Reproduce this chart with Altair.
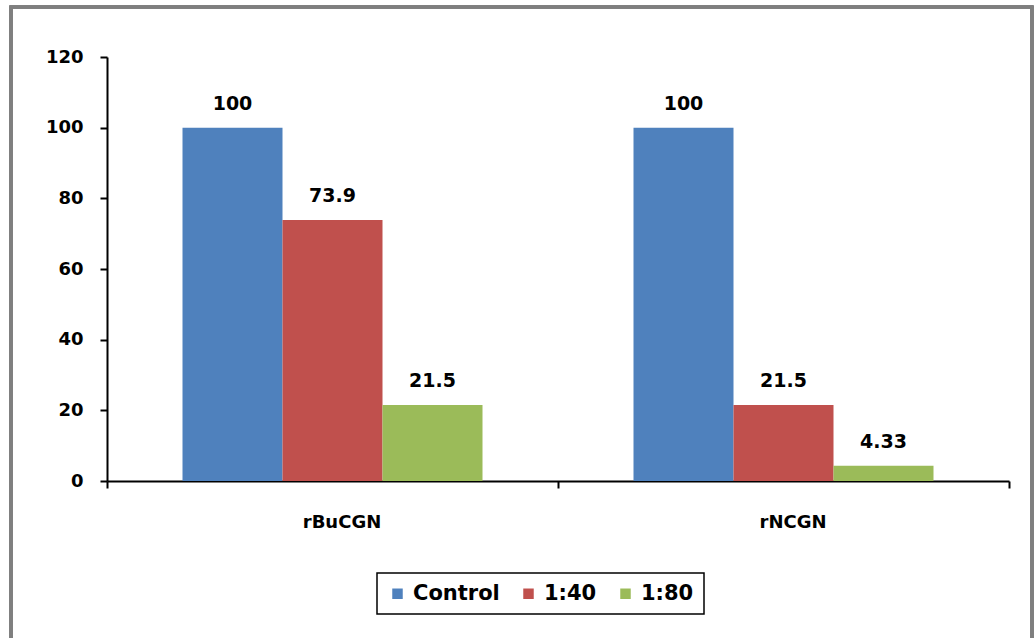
import altair as alt
import pandas as pd

# Source values for the grouped bar chart
groups = ["rBuCGN", "rNCGN"]
series = ["Control", "1:40", "1:80"]
values_rbucgn = [100, 73.9, 21.5]
values_rncgn = [100, 21.5, 4.33]
labels_rbucgn = ["100", "73.9", "21.5"]
labels_rncgn = ["100", "21.5", "4.33"]
colors = ["#4F81BD", "#C0504D", "#9BBB59"]
y_ticks = [0, 20, 40, 60, 80, 100, 120]

rows = []
for g, vals, labs in zip(groups, [values_rbucgn, values_rncgn], [labels_rbucgn, labels_rncgn]):
    for s, v, lab in zip(series, vals, labs):
        rows.append({"group": g, "series": s, "value": v, "label": lab})
df = pd.DataFrame(rows)

FONT = "DejaVu Sans"

x_enc = alt.X(
    "group:N",
    sort=groups,
    scale=alt.Scale(paddingInner=0, paddingOuter=0),
    axis=alt.Axis(
        title=None, labelAngle=0, tickBand="extent", domainColor="black",
        domainWidth=2, tickColor="black", tickWidth=2, tickSize=7,
        labelFont=FONT, labelFontSize=18, labelFontWeight="bold",
        labelColor="black", labelPadding=25, labelOffset=9,
    ),
)
xoff_enc = alt.XOffset(
    "series:N", sort=series,
    scale=alt.Scale(paddingInner=0, paddingOuter=0.755),
)
y_enc = alt.Y(
    "value:Q",
    scale=alt.Scale(domain=[0, 120], nice=False),
    axis=alt.Axis(
        title=None, values=y_ticks, grid=False, domainColor="black",
        domainWidth=2, tickColor="black", tickWidth=2, tickSize=7,
        labelFont=FONT, labelFontSize=18, labelFontWeight="bold",
        labelColor="black", labelPadding=17,
    ),
)

bars = alt.Chart(df).mark_bar().encode(
    x=x_enc,
    xOffset=xoff_enc,
    y=y_enc,
    color=alt.Color(
        "series:N", sort=series,
        scale=alt.Scale(domain=series, range=colors),
        legend=alt.Legend(
            title=None, orient="none", legendX=270, legendY=516,
            direction="horizontal", strokeColor="black",
            padding=10, labelFont=FONT, labelFontSize=21,
            labelFontWeight="bold", labelColor="black", symbolType="square",
            symbolSize=110, symbolStrokeWidth=0, columnPadding=18,
            labelOffset=5,
        ),
    ),
)

text = alt.Chart(df).mark_text(
    font=FONT, fontSize=19, fontWeight="bold", color="black",
    baseline="middle", dy=-24,
).encode(
    x=alt.X("group:N", sort=groups),
    xOffset=alt.XOffset("series:N", sort=series),
    y="value:Q",
    text="label:N",
)

# Gray frame around the whole figure
frame = alt.Chart(df).mark_rect(
    fill=None, stroke="#7f7f7f", strokeWidth=3,
).encode(
    x=alt.value(-96), x2=alt.value(925),
    y=alt.value(-50), y2=alt.value(600),
)

chart = alt.layer(bars, text, frame).properties(
    width=902, height=424,
    padding={"left": 107, "top": 57, "right": 26, "bottom": 157},
    autosize=alt.AutoSizeParams(type="none"),
    background="white",
).configure_view(stroke=None).configure_legend(strokeWidth=1.5)

chart.save("out.html", embed_options={"renderer": "svg", "actions": False})
